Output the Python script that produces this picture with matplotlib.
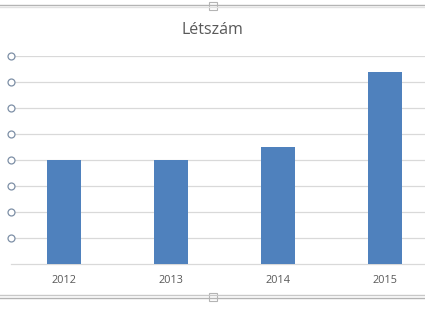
import matplotlib.pyplot as plt
from matplotlib.lines import Line2D
from matplotlib.patches import Rectangle
import matplotlib.transforms as mtransforms

years = ["2012", "2013", "2014", "2015"]
letszam = [4, 4, 4.5, 7.4]
y_ticks = [1, 2, 3, 4, 5, 6, 7, 8]

W, H = 425, 319
fig = plt.figure(figsize=(W / 100, H / 100), dpi=100)
fig.patch.set_facecolor("white")

# plot area runs past the right edge, like the cropped screenshot
left, right, bottom, top = 10.5, 438.5, 264, 56
ax = fig.add_axes([left / W, 1 - bottom / H, (right - left) / W, (bottom - top) / H])

x = range(len(years))
ax.bar(x, letszam, width=0.31, color="#4f81bd", zorder=3)
ax.set_xlim(-0.5, len(years) - 0.5)
ax.set_ylim(0, 8)
ax.set_xticks(list(x))
ax.set_xticklabels(years, fontsize=7.8, color="#595959", family="Open Sans")
ax.tick_params(axis="x", length=0, pad=8)
ax.set_yticks(y_ticks)
ax.set_yticklabels([])
ax.tick_params(axis="y", length=0)
ax.grid(axis="y", color="#d9d9d9", linewidth=0.9, zorder=0)
for s in ["top", "right", "left"]:
    ax.spines[s].set_visible(False)
ax.spines["bottom"].set_color("#d9d9d9")
ax.spines["bottom"].set_linewidth(0.9)

# selection circles at the left end of each gridline
trans = mtransforms.blended_transform_factory(ax.transAxes, ax.transData)
ax.plot([0.0] * len(y_ticks), y_ticks, "o", transform=trans, ms=5,
        mfc="white", mec="#7d8fa6", mew=0.9, clip_on=False, zorder=4)

fig.text(0.5, 1 - 30 / H, "Létszám", ha="center", va="center",
         fontsize=11.5, color="#595959", family="Open Sans")

# chart frame lines and handles
for yy, c in [(5, "#b4b4b4"), (7, "#e2e2e2"), (295, "#c8c8c8"), (298, "#b4b4b4")]:
    fig.add_artist(Line2D([0, 1], [1 - yy / H, 1 - yy / H], color=c, lw=1.0))
for yy in [6, 297]:
    fig.add_artist(Rectangle((209 / W, 1 - (yy + 4) / H), 8 / W, 8 / H,
                             facecolor="white", edgecolor="#b4b4b4", lw=0.8))

fig.savefig("out.png", dpi=100)
